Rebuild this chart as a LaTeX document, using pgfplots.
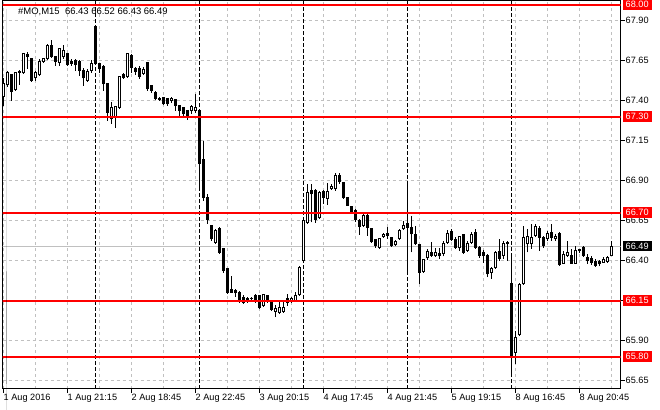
\documentclass[border=0pt]{standalone}
\usepackage{fontspec}
\setmainfont{Liberation Sans}
\usepackage{pgfplots}
\usepackage{pgfplotstable}
\pgfplotsset{compat=1.18}

\definecolor{mtgrid}{RGB}{192,192,192}
\definecolor{mtred}{RGB}{255,0,0}
\newcommand{\mtfont}{\fontsize{9.2}{11}\selectfont}

% #MO M15 bars, i = bar number counted from 1 Aug 17:15
% up bars (white)
\pgfplotstableread{
i o h l c
0 67.425 67.544 67.369 67.508
1 67.498 67.588 67.488 67.573
3 67.467 67.581 67.463 67.573
4 67.578 67.592 67.498 67.584
5 67.573 67.700 67.569 67.692
8 67.542 67.588 67.525 67.573
9 67.561 67.663 67.556 67.646
10 67.646 67.669 67.638 67.661
11 67.661 67.756 67.656 67.744
14 67.639 67.731 67.619 67.723
15 67.675 67.750 67.663 67.713
21 67.525 67.600 67.519 67.583
22 67.588 67.656 67.575 67.633
27 67.286 67.389 67.254 67.358
28 67.296 67.369 67.231 67.363
29 67.358 67.556 67.350 67.550
31 67.550 67.700 67.544 67.692
35 67.571 67.613 67.563 67.594
42 67.400 67.425 67.388 67.414
47 67.338 67.375 67.319 67.364
48 67.338 67.444 67.325 67.358
53 66.514 66.600 66.506 66.588
62 66.163 66.175 66.144 66.166
65 66.119 66.194 66.113 66.186
68 66.083 66.125 66.046 66.098
69 66.077 66.150 66.069 66.108
70 66.083 66.150 66.075 66.104
72 66.150 66.175 66.138 66.161
73 66.150 66.202 66.144 66.181
74 66.186 66.369 66.181 66.358
75 66.400 66.663 66.388 66.650
76 66.639 66.879 66.631 66.827
79 66.667 66.838 66.663 66.827
81 66.791 66.888 66.750 66.834
82 66.848 66.881 66.844 66.863
83 66.848 66.950 66.838 66.934
90 66.619 66.694 66.613 66.681
94 66.483 66.544 66.475 66.536
95 66.550 66.575 66.544 66.563
98 66.498 66.531 66.494 66.519
99 66.536 66.600 66.531 66.588
100 66.598 66.650 66.594 66.619
105 66.333 66.413 66.325 66.404
106 66.417 66.473 66.404 66.456
108 66.429 66.479 66.425 66.448
110 66.446 66.525 66.427 66.504
111 66.514 66.594 66.506 66.567
114 66.479 66.556 66.463 66.550
116 66.463 66.525 66.456 66.504
117 66.514 66.577 66.506 66.561
122 66.327 66.363 66.286 66.352
123 66.354 66.463 66.350 66.452
125 66.431 66.525 66.413 66.504
126 66.506 66.525 66.400 66.511
128 65.825 65.963 65.754 65.922
129 65.936 66.263 65.931 66.250
130 66.254 66.619 66.250 66.546
131 66.504 66.600 66.452 66.550
132 66.504 66.629 66.473 66.546
133 66.556 66.631 66.550 66.613
136 66.536 66.588 66.525 66.567
138 66.536 66.569 66.525 66.550
140 66.383 66.463 66.381 66.438
141 66.431 66.525 66.425 66.452
143 66.383 66.494 66.381 66.463
150 66.389 66.421 66.388 66.404
151 66.394 66.431 66.388 66.419
152 66.43 66.52 66.43 66.49
}\bull

% down bars (black)
\pgfplotstableread{
i o h l c
2 67.561 67.563 67.400 67.458
6 67.686 67.702 67.598 67.677
7 67.661 67.669 67.519 67.525
12 67.744 67.779 67.669 67.677
13 67.675 67.681 67.619 67.646
16 67.692 67.700 67.619 67.625
17 67.646 67.663 67.619 67.633
18 67.650 67.663 67.588 67.625
19 67.646 67.656 67.556 67.588
20 67.588 67.606 67.494 67.542
23 67.863 67.869 67.625 67.629
24 67.629 67.638 67.575 67.598
25 67.613 67.625 67.463 67.504
26 67.504 67.513 67.275 67.327
30 67.563 67.575 67.538 67.546
32 67.679 67.694 67.575 67.608
33 67.598 67.613 67.563 67.583
34 67.598 67.619 67.538 67.550
36 67.639 67.644 67.463 67.473
37 67.494 67.500 67.450 67.463
38 67.452 67.463 67.406 67.411
39 67.414 67.425 67.400 67.408
40 67.421 67.425 67.375 67.379
41 67.414 67.419 67.369 67.379
43 67.404 67.413 67.338 67.369
44 67.369 67.375 67.306 67.338
45 67.354 67.363 67.300 67.317
46 67.338 67.344 67.281 67.306
49 67.338 67.344 66.850 67.010
50 67.031 67.150 66.775 66.794
51 66.794 66.819 66.631 66.660
52 66.619 66.625 66.525 66.536
54 66.598 66.613 66.444 66.452
55 66.473 66.481 66.325 66.338
56 66.348 66.356 66.194 66.202
57 66.217 66.306 66.200 66.202
58 66.213 66.225 66.175 66.198
59 66.202 66.213 66.138 66.150
60 66.171 66.188 66.131 66.139
61 66.161 66.175 66.138 66.146
63 66.181 66.194 66.138 66.150
64 66.181 66.188 66.100 66.104
66 66.181 66.188 66.138 66.150
67 66.150 66.156 66.088 66.094
71 66.163 66.194 66.119 66.138
77 66.838 66.881 66.639 66.817
78 66.838 66.850 66.638 66.656
80 66.831 66.844 66.756 66.796
84 66.931 66.950 66.881 66.896
85 66.889 66.894 66.788 66.794
86 66.794 66.800 66.744 66.747
87 66.738 66.744 66.694 66.706
88 66.713 66.725 66.644 66.654
89 66.653 66.663 66.563 66.613
91 66.681 66.694 66.556 66.608
92 66.600 66.606 66.513 66.519
93 66.531 66.538 66.481 66.494
96 66.569 66.608 66.536 66.556
97 66.542 66.550 66.488 66.494
101 66.633 66.894 66.319 66.608
102 66.608 66.681 66.452 66.567
103 66.561 66.619 66.500 66.504
104 66.500 66.506 66.254 66.327
107 66.448 66.519 66.425 66.433
109 66.446 66.479 66.411 66.429
112 66.581 66.598 66.525 66.531
113 66.531 66.550 66.473 66.483
115 66.563 66.569 66.444 66.452
118 66.577 66.600 66.475 66.483
119 66.483 66.494 66.419 66.431
120 66.452 66.469 66.388 66.431
121 66.431 66.442 66.296 66.317
124 66.456 66.536 66.400 66.415
127 66.254 66.442 65.671 65.800
134 66.598 66.619 66.463 66.546
135 66.542 66.556 66.481 66.494
137 66.577 66.629 66.525 66.546
139 66.567 66.577 66.369 66.375
142 66.431 66.473 66.381 66.383
144 66.467 66.475 66.450 66.463
145 66.483 66.494 66.425 66.431
146 66.421 66.444 66.381 66.400
147 66.411 66.431 66.375 66.389
148 66.394 66.413 66.363 66.369
149 66.394 66.406 66.364 66.379
}\bear

\pgfplotsset{
  candle/.style={draw=none, mark=none, forget plot,
    error bars/.cd, y dir=plus, y explicit, error mark=none},
}

\begin{document}
\begin{tikzpicture}
\begin{axis}[
  at={(0,0)}, anchor=south west,
  scale only axis, width=618bp, height=388.48bp,
  xmin=-0.25, xmax=154.25, ymin=65.600, ymax=68.028,
  clip mode=individual,
  axis line style={line width=1bp},
  tick align=outside,
  xtick pos=bottom, ytick pos=right, yticklabel pos=right,
  major tick length=4bp, minor tick length=0pt,
  tick style={black, line width=1bp},
  xtick={0,16,...,144},
  xticklabels={1 Aug 2016, 1 Aug 21:15, 2 Aug 18:45, 2 Aug 22:45, 3 Aug 20:15,
    4 Aug 17:45, 4 Aug 21:45, 5 Aug 19:15, 8 Aug 16:45, 8 Aug 20:45},
  minor xtick={8,24,...,152},
  ytick={65.65,65.90,66.15,66.40,66.65,66.90,67.15,67.40,67.65,67.90},
  yticklabels={65.65,65.90,66.15,66.40,66.65,66.90,67.15,67.40,67.65,67.90},
  xmajorgrids, xminorgrids, ymajorgrids,
  major grid style={mtgrid, line width=1bp, dash pattern=on 3bp off 3bp},
  minor grid style={mtgrid, line width=1bp, dash pattern=on 3bp off 3bp},
  extra x ticks={23,49,75,101,127},
  extra x tick labels={},
  extra x tick style={major tick length=0pt, grid=major,
    major grid style={black, line width=1bp, dash pattern=on 4bp off 2bp}},
  every tick label/.append style={font=\mtfont, text=black},
  xticklabel style={anchor=north west, inner sep=0pt, yshift=-1bp},
  yticklabel style={anchor=west, inner sep=0pt, xshift=1bp},
]
% current price line
\addplot[mtgrid, line width=1bp, forget plot] coordinates {(-1,66.49) (156,66.49)};

% wicks
\addplot[candle, error bar style={draw=black, line width=1bp, solid}]
  table[x=i, y=l, y error plus expr=\thisrow{h}-\thisrow{l}] {\bull};
\addplot[candle, error bar style={draw=black, line width=1bp, solid}]
  table[x=i, y=l, y error plus expr=\thisrow{h}-\thisrow{l}] {\bear};

% bodies
\addplot[candle, error bar style={draw=black, line width=3bp, solid}]
  table[x=i, y expr=\thisrow{c}-0.003125, y error plus expr=\thisrow{o}-\thisrow{c}+0.00625] {\bear};
\addplot[candle, error bar style={draw=black, line width=3bp, solid}]
  table[x=i, y expr=\thisrow{o}-0.003125, y error plus expr=\thisrow{c}-\thisrow{o}+0.00625] {\bull};
\addplot[candle, error bar style={draw=white, line width=1bp, solid}]
  table[x=i, y expr=\thisrow{o}+0.003125, y error plus expr={max(\thisrow{c}-\thisrow{o}-0.00625,0)}] {\bull};

% horizontal levels
\addplot[mtred, line width=2bp, forget plot] coordinates {(-1,68.00) (156,68.00)};
\addplot[mtred, line width=2bp, forget plot] coordinates {(-1,67.30) (156,67.30)};
\addplot[mtred, line width=2bp, forget plot] coordinates {(-1,66.70) (156,66.70)};
\addplot[mtred, line width=2bp, forget plot] coordinates {(-1,66.15) (156,66.15)};
\addplot[mtred, line width=2bp, forget plot] coordinates {(-1,65.80) (156,65.80)};

% price tags on the right
\tikzset{tag/.style={anchor=west, font=\mtfont, text=white, inner xsep=3bp, inner ysep=0pt, minimum height=10.5bp}}
\node[tag, fill=mtred] at ([xshift=2bp]axis cs:154.25,68.00) {68.00};
\node[tag, fill=mtred] at ([xshift=2bp]axis cs:154.25,67.30) {67.30};
\node[tag, fill=mtred] at ([xshift=2bp]axis cs:154.25,66.70) {66.70};
\node[tag, fill=mtred] at ([xshift=2bp]axis cs:154.25,66.15) {66.15};
\node[tag, fill=mtred] at ([xshift=2bp]axis cs:154.25,65.80) {65.80};
\node[tag, fill=black] at ([xshift=2bp]axis cs:154.25,66.49) {66.49};

% header
\fill ([xshift=3.5bp,yshift=-9bp]rel axis cs:0,1) -- ++(6bp,0) -- ++(-3bp,-3.5bp) -- cycle;
\node[anchor=base west, inner sep=0pt, font=\fontsize{9.5}{11}\selectfont]
  at ([xshift=15.5bp,yshift=-14bp]rel axis cs:0,1) {\#MO,M15\ \ 66.43 66.52 66.43 66.49};
\end{axis}
\pgfresetboundingbox
\path[use as bounding box] (-2.5bp,-21.52bp) rectangle (657.5bp,388.48bp);
\end{tikzpicture}
\end{document}
